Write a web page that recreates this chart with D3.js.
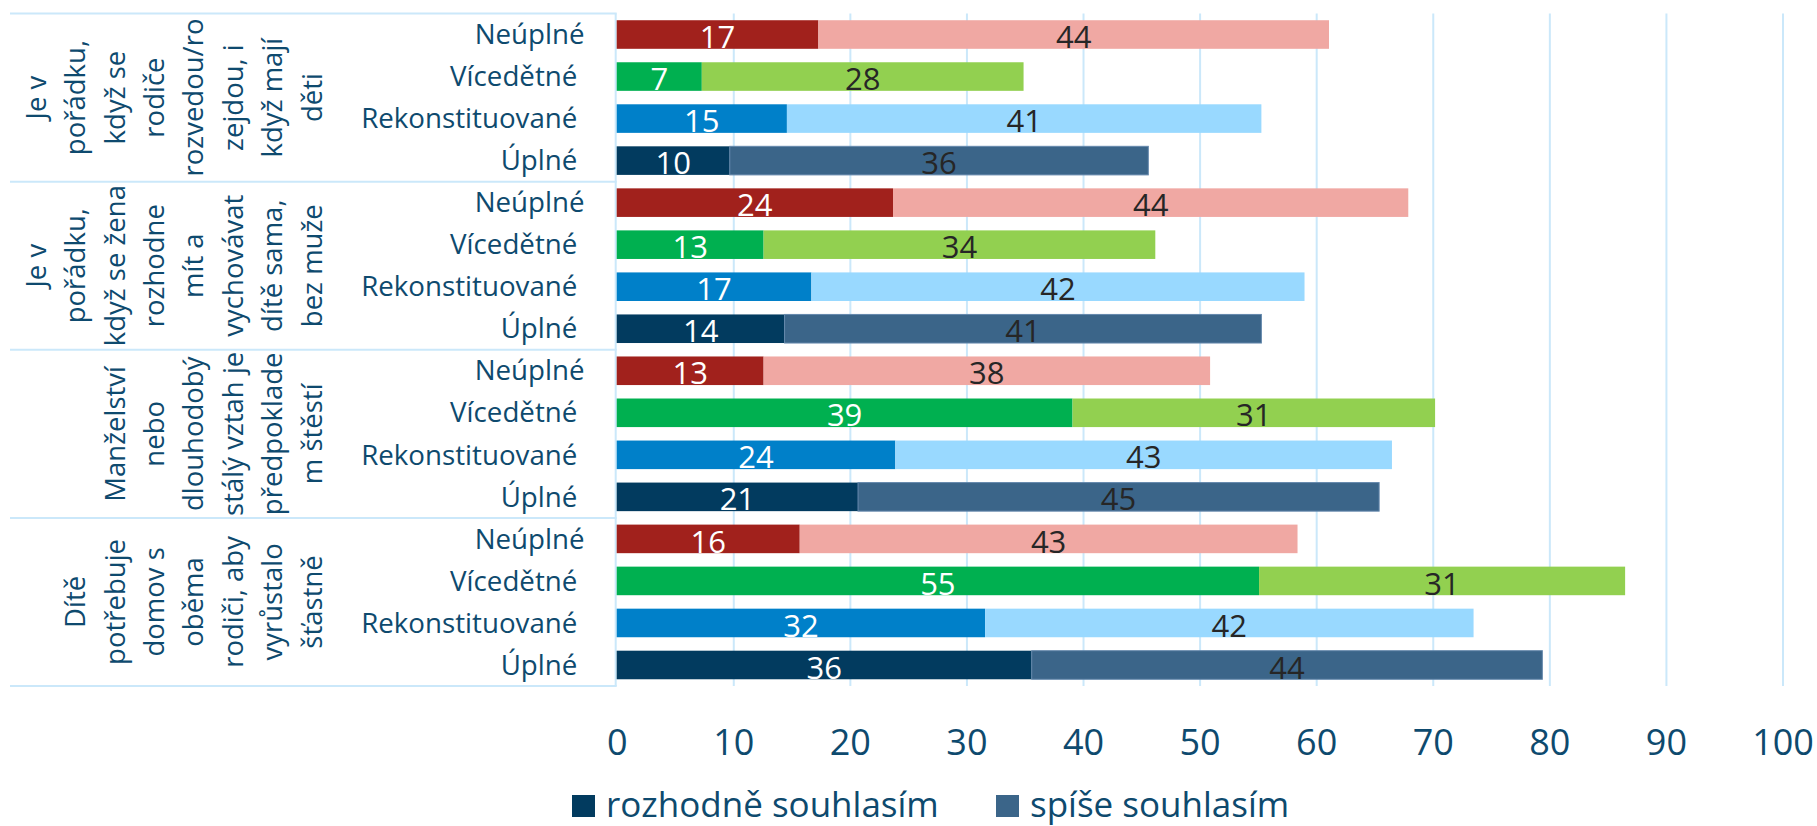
<!DOCTYPE html>
<html>
<head>
<meta charset="utf-8">
<script src="https://cdn.jsdelivr.net/npm/d3@7/dist/d3.min.js"></script>
<style>
  html, body { margin: 0; padding: 0; background: #fff; }
  svg text { font-family: "Open Sans", "Noto Sans", sans-serif; }
</style>
</head>
<body>
<svg id="chart" width="1817" height="826"></svg>
<script>
// ---- data ----
const categories = ["Neúplné", "Vícedětné ", "Rekonstituované ", "Úplné "];
const groupLabels = [
  ["Je v", "pořádku,", "když se", "rodiče", "rozvedou/ro", "zejdou, i", "když mají", "děti"],
  ["Je v", "pořádku,", "když se žena", "rozhodne", "mít a", "vychovávat", "dítě sama,", "bez muže"],
  ["Manželství", "nebo", "dlouhodobý", "stálý vztah je", "předpoklade", "m štěstí"],
  ["Dítě", "potřebuje", "domov s", "oběma", "rodiči, aby", "vyrůstalo", "šťastně"]
];
const seriesNames = ["rozhodně souhlasím", "spíše souhlasím"];
// rozhodně souhlasím, per group, per category
const rozhodne = [
  [17.3, 7.3, 14.6, 9.7],
  [23.7, 12.6, 16.7, 14.4],
  [12.6, 39.1, 23.9, 20.7],
  [15.7, 55.1, 31.6, 35.6]
];
// spíše souhlasím
const spise = [
  [43.8, 27.6, 40.7, 35.9],
  [44.2, 33.6, 42.3, 40.9],
  [38.3, 31.1, 42.6, 44.7],
  [42.7, 31.4, 41.9, 43.8]
];
const xTicks = [0, 10, 20, 30, 40, 50, 60, 70, 80, 90, 100];
const darkColors = ["#A1211C", "#00B050", "#0080C9", "#023B5F"];
const lightColors = ["#F0A8A3", "#92D050", "#99D9FF", "#3B6589"];

// ---- layout ----
const svg = d3.select("#chart");
const plotLeft = 616.7, plotRight = 1782.5, plotTop = 13.5, plotBottom = 686;
const textColor = "#0E4A6E";
const gridColor = "#CBE8FA";

const rows = [];
groupLabels.forEach((g, gi) => {
  categories.forEach((c, ci) => {
    rows.push({ key: gi + "|" + ci, gi, ci, cat: c, r: rozhodne[gi][ci], s: spise[gi][ci] });
  });
});

const x = d3.scaleLinear().domain([0, 100]).range([plotLeft, plotRight]);
const y = d3.scaleBand().domain(rows.map(d => d.key)).range([plotTop, plotBottom])
  .paddingInner(0.32).paddingOuter(0.16);
const groupScale = d3.scaleBand().domain(d3.range(groupLabels.length)).range([plotTop, plotBottom]);

// gridlines
svg.append("g")
  .attr("transform", `translate(0,${plotBottom})`)
  .call(d3.axisBottom(x).tickValues(xTicks.slice(1)).tickSize(-(plotBottom - plotTop)).tickFormat(""))
  .call(g => g.select(".domain").remove())
  .call(g => g.selectAll("line").attr("stroke", gridColor).attr("stroke-width", 2));

// category axis frame: separators
svg.append("g").selectAll("line")
  .data(d3.range(groupLabels.length + 1))
  .join("line")
  .attr("x1", 10).attr("x2", plotLeft)
  .attr("y1", d => d < groupLabels.length ? groupScale(d) : plotBottom)
  .attr("y2", d => d < groupLabels.length ? groupScale(d) : plotBottom)
  .attr("stroke", gridColor).attr("stroke-width", 2);
svg.append("line")
  .attr("x1", x(0) - 1).attr("x2", x(0) - 1)
  .attr("y1", plotTop).attr("y2", plotBottom)
  .attr("stroke", gridColor).attr("stroke-width", 2);

// stacked bars
const stack = d3.stack().keys(["r", "s"]);
const stacked = stack(rows);
const barG = svg.append("g");
stacked.forEach((layer, li) => {
  barG.append("g").selectAll("rect")
    .data(layer)
    .join("rect")
    .attr("x", d => x(d[0]))
    .attr("width", d => x(d[1]) - x(d[0]))
    .attr("y", d => y(d.data.key))
    .attr("height", y.bandwidth())
    .attr("fill", d => li === 0 ? darkColors[d.data.ci] : lightColors[d.data.ci])
    .attr("stroke", d => (li === 1 && d.data.ci === 3) ? "#6488AC" : "none")
    .attr("stroke-width", 1);
  barG.append("g").selectAll("text")
    .data(layer)
    .join("text")
    .attr("x", d => x((d[0] + d[1]) / 2))
    .attr("y", d => y(d.data.key) + y.bandwidth() / 2)
    .attr("dy", "0.44em")
    .attr("text-anchor", "middle")
    .attr("font-size", 31)
    .attr("fill", li === 0 ? "#FFFFFF" : "#262626")
    .text(d => d3.format(".0f")(d[1] - d[0]));
});

// category labels
svg.append("g").selectAll("text")
  .data(rows)
  .join("text")
  .attr("x", 584.5)
  .attr("y", d => y(d.key) + y.bandwidth() / 2)
  .attr("dy", "0.35em")
  .attr("text-anchor", "end")
  .attr("xml:space", "preserve")
  .style("white-space", "pre")
  .attr("font-size", 27.7)
  .attr("fill", textColor)
  .text(d => d.cat);

// group labels (rotated, wrapped)
const lineStep = 39.4, lastLineX = 312;
groupLabels.forEach((lines, gi) => {
  const cy = groupScale(gi) + groupScale.bandwidth() / 2;
  svg.append("g").selectAll("text")
    .data(lines)
    .join("text")
    .attr("transform", (d, i) => `translate(${lastLineX - (lines.length - 1 - i) * lineStep},${cy}) rotate(-90)`)
    .attr("dy", "0.35em")
    .attr("text-anchor", "middle")
    .attr("font-size", 27.5)
    .attr("fill", textColor)
    .text(d => d);
});

// x axis labels
svg.append("g")
  .attr("transform", `translate(0,${plotBottom})`)
  .call(d3.axisBottom(x).tickValues(xTicks).tickSize(0).tickFormat(d3.format("d")))
  .call(g => g.select(".domain").remove())
  .call(g => g.selectAll("text")
    .attr("y", 69).attr("dy", 0)
    .attr("font-size", 36)
    .attr("font-family", "Open Sans")
    .attr("fill", textColor));

// legend
const legendX = [572, 996];
const legend = svg.append("g").selectAll("g")
  .data(seriesNames)
  .join("g")
  .attr("transform", (d, i) => `translate(${legendX[i]},795)`);
legend.append("rect")
  .attr("width", 23).attr("height", 22)
  .attr("fill", (d, i) => i === 0 ? darkColors[3] : lightColors[3]);
legend.append("text")
  .attr("x", 34).attr("y", 22)
  .attr("font-size", 35)
  .attr("fill", textColor)
  .text(d => d);
</script>
</body>
</html>
